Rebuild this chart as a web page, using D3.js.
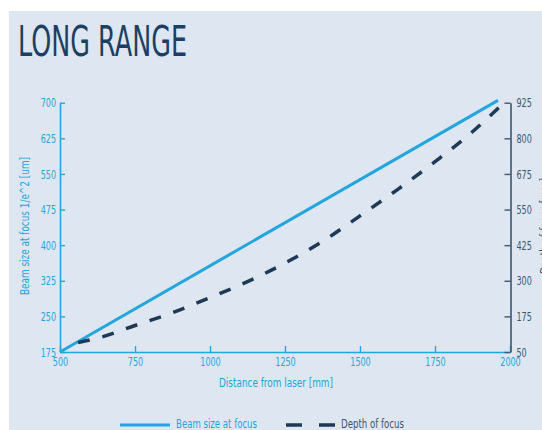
<!DOCTYPE html>
<html>
<head>
<meta charset="utf-8">
<script src="https://cdn.jsdelivr.net/npm/d3@7"></script>
<style>
  body { margin: 0; background: #ffffff; }
  svg { display: block; font-family: "DejaVu Sans", sans-serif; }
</style>
</head>
<body>
<div id="chart"></div>
<script>
// Data
var beamDistance = [500, 1960];
var beamSize = [175, 705];

var depthDistance = [560, 640, 750, 875, 1000, 1125, 1250, 1375, 1500, 1625, 1750, 1875, 1980];
var depthFocus = [83, 103, 143, 188, 241, 297, 362, 438, 528, 620, 718, 823, 925];

var xTicks = [500, 750, 1000, 1250, 1500, 1750, 2000];
var leftTicks = [175, 250, 325, 400, 475, 550, 625, 700];
var rightTicks = [50, 175, 300, 425, 550, 675, 800, 925];

var cyan = "#22a6dd";
var navy = "#1e3a57";
var slate = "#3f566e";
var squeeze = 0.62; // condensed look for the tick labels

const svg = d3.select("#chart")
  .append("svg")
  .attr("width", 542)
  .attr("height", 430);

// panel background
svg.append("rect")
  .attr("x", 9).attr("y", 11)
  .attr("width", 542 - 9).attr("height", 430 - 11)
  .attr("fill", "#dde6f1");

// title
svg.append("text")
  .attr("x", 18).attr("y", 56)
  .attr("font-size", 42)
  .attr("textLength", 169)
  .attr("lengthAdjust", "spacingAndGlyphs")
  .attr("fill", "#1d3f63")
  .text("LONG RANGE");

// scales
const x = d3.scaleLinear().domain([500, 2000]).range([60, 510]);
const yLeft = d3.scaleLinear().domain([175, 700]).range([352, 102.7]);
const yRight = d3.scaleLinear().domain([50, 925]).range([352, 102.7]);

// axes
function styleAxis(g, color) {
  g.selectAll(".domain").attr("stroke", color).attr("stroke-width", 1.6);
  g.selectAll(".tick line").attr("stroke", color).attr("stroke-width", 1.4);
  g.selectAll(".tick text")
    .attr("fill", color)
    .attr("font-size", 13)
    .attr("font-family", "DejaVu Sans, sans-serif")
    .attr("x", function () { return (+d3.select(this).attr("x") || 0) / squeeze; })
    .attr("transform", "scale(" + squeeze + ",1)");
}

svg.append("g")
  .attr("transform", "translate(0,352)")
  .call(d3.axisBottom(x).tickValues(xTicks).tickFormat(d3.format("d")).tickSizeInner(-6).tickSizeOuter(0).tickPadding(5))
  .call(g => styleAxis(g, cyan));

svg.append("g")
  .attr("transform", "translate(60,0)")
  .call(d3.axisLeft(yLeft).tickValues(leftTicks).tickFormat(d3.format("d")).tickSizeInner(-5).tickSizeOuter(0).tickPadding(4))
  .call(g => styleAxis(g, cyan));

svg.append("g")
  .attr("transform", "translate(510.5,0)")
  .call(d3.axisRight(yRight).tickValues(rightTicks).tickFormat(d3.format("d")).tickSizeInner(-6).tickSizeOuter(0).tickPadding(6))
  .call(g => styleAxis(g, slate));

// axis titles
svg.append("text")
  .attr("x", 276).attr("y", 387)
  .attr("text-anchor", "middle")
  .attr("font-size", 12)
  .attr("textLength", 114)
  .attr("lengthAdjust", "spacingAndGlyphs")
  .attr("fill", cyan)
  .text("Distance from laser [mm]");

svg.append("text")
  .attr("transform", "translate(29,226) rotate(-90)")
  .attr("text-anchor", "middle")
  .attr("font-size", 12)
  .attr("textLength", 138)
  .attr("lengthAdjust", "spacingAndGlyphs")
  .attr("fill", cyan)
  .text("Beam size at focus 1/e^2 [um]");

svg.append("text")
  .attr("transform", "translate(549,226) rotate(-90)")
  .attr("text-anchor", "middle")
  .attr("font-size", 12)
  .attr("textLength", 96)
  .attr("lengthAdjust", "spacingAndGlyphs")
  .attr("fill", slate)
  .text("Depth of focus [mm]");

// lines
const beamLine = d3.line()
  .x((d, i) => x(beamDistance[i]))
  .y(d => yLeft(d));

const depthLine = d3.line()
  .x((d, i) => x(depthDistance[i]))
  .y(d => yRight(d))
  .curve(d3.curveMonotoneX);

svg.append("path")
  .datum(beamSize)
  .attr("d", beamLine)
  .attr("fill", "none")
  .attr("stroke", cyan)
  .attr("stroke-width", 3);

svg.append("path")
  .datum(depthFocus)
  .attr("d", depthLine)
  .attr("fill", "none")
  .attr("stroke", navy)
  .attr("stroke-width", 3.5)
  .attr("stroke-dasharray", "12,13");

// legend
svg.append("line")
  .attr("x1", 120).attr("x2", 170)
  .attr("y1", 425).attr("y2", 425)
  .attr("stroke", cyan).attr("stroke-width", 3);

svg.append("text")
  .attr("x", 176).attr("y", 428)
  .attr("font-size", 13)
  .attr("textLength", 81)
  .attr("lengthAdjust", "spacingAndGlyphs")
  .attr("fill", cyan)
  .text("Beam size at focus");

svg.append("line")
  .attr("x1", 286).attr("x2", 335)
  .attr("y1", 425).attr("y2", 425)
  .attr("stroke", navy).attr("stroke-width", 3.5)
  .attr("stroke-dasharray", "16,17");

svg.append("text")
  .attr("x", 341).attr("y", 428)
  .attr("font-size", 13)
  .attr("textLength", 63)
  .attr("lengthAdjust", "spacingAndGlyphs")
  .attr("fill", slate)
  .text("Depth of focus");
</script>
</body>
</html>
